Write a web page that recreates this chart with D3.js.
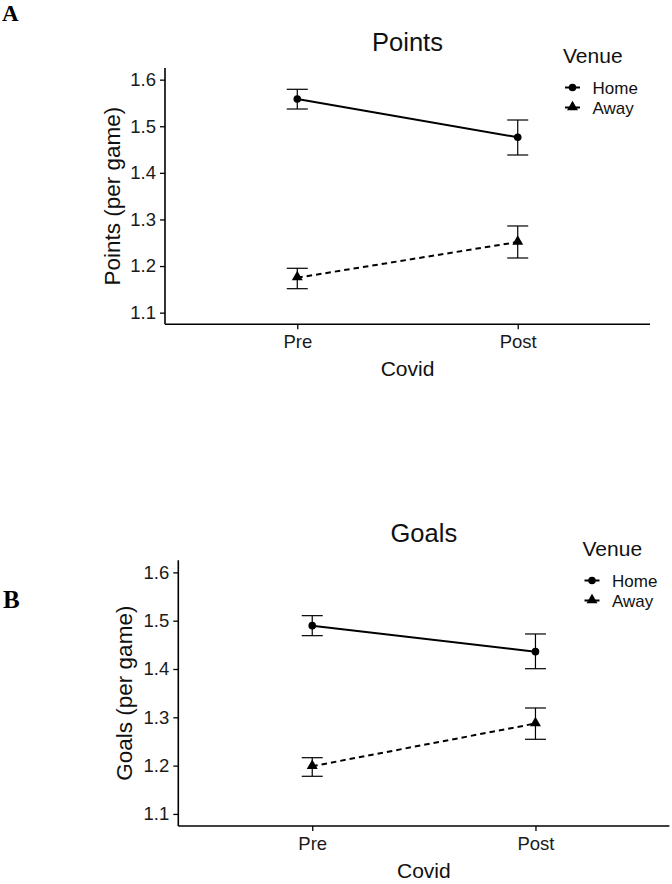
<!DOCTYPE html>
<html>
<head>
<meta charset="utf-8">
<script src="https://cdn.jsdelivr.net/npm/d3@7"></script>
<style>
  html, body { margin: 0; padding: 0; background: #fff; }
  svg { display: block; }
  text { font-family: "Liberation Sans", Arial, sans-serif; }
</style>
</head>
<body>
<svg id="chart" width="672" height="884"></svg>
<script>
// ---------- Data ----------
const covid = ["Pre", "Post"];
const venues = ["Home", "Away"];
const yTicks = [1.1, 1.2, 1.3, 1.4, 1.5, 1.6];
const yLimits = [1.1, 1.6];

// Panel A: Points (per game)
const pointsHome   = [1.5585, 1.4763];
const pointsHomeLo = [1.5370, 1.4383];
const pointsHomeHi = [1.5793, 1.5134];
const pointsAway   = [1.1750, 1.2516];
const pointsAwayLo = [1.1514, 1.2173];
const pointsAwayHi = [1.1952, 1.2860];

// Panel B: Goals (per game)
const goalsHome   = [1.4897, 1.4359];
const goalsHomeLo = [1.4690, 1.4006];
const goalsHomeHi = [1.5104, 1.4725];
const goalsAway   = [1.1987, 1.2872];
const goalsAwayLo = [1.1779, 1.2545];
const goalsAwayHi = [1.2164, 1.3193];

// ---------- Drawing ----------
const svg = d3.select("#chart");
svg.append("rect").attr("width", 672).attr("height", 884).attr("fill", "#fff");

function panel(opt) {
  const g = svg.append("g");
  const exp = (yLimits[1] - yLimits[0]) * 0.05;
  const y = d3.scaleLinear()
    .domain([yLimits[0] - exp, yLimits[1] + exp])
    .range([opt.bottom, opt.top]);
  // discrete x with 0.6 expansion each side
  const xPos = d3.scaleLinear().domain([0.4, 2.6]).range([opt.left, opt.right]);
  const x = c => xPos(covid.indexOf(c) + 1);

  // Axes
  const yAxis = d3.axisLeft(y).tickValues(yTicks).tickFormat(d3.format(".1f"))
    .tickSize(5).tickPadding(4);
  const ya = g.append("g").attr("transform", `translate(${opt.left},0)`).call(yAxis);
  ya.select(".domain").attr("stroke", "#000").attr("stroke-width", 1.6)
    .attr("d", `M0,${opt.top}V${opt.bottom}`);
  ya.selectAll(".tick line").attr("stroke", "#000").attr("stroke-width", 1.3);
  ya.selectAll(".tick text").attr("fill", "#1a1a1a").style("font-size", "18.5px")
    .style("font-family", "Liberation Sans, Arial, sans-serif");

  const xScaleBand = d3.scalePoint().domain(covid).range([x("Pre"), x("Post")]);
  const xAxis = d3.axisBottom(xScaleBand).tickSize(5).tickPadding(6);
  const xa = g.append("g").attr("transform", `translate(0,${opt.bottom})`).call(xAxis);
  xa.select(".domain").attr("stroke", "#000").attr("stroke-width", 1.6)
    .attr("d", `M${opt.left},0H${opt.right}`);
  xa.selectAll(".tick line").attr("stroke", "#000").attr("stroke-width", 1.3);
  xa.selectAll(".tick text").attr("fill", "#1a1a1a").style("font-size", "18.5px")
    .style("font-family", "Liberation Sans, Arial, sans-serif");

  // Titles
  g.append("text").attr("x", (opt.left + opt.right) / 2).attr("y", opt.titleY)
    .attr("text-anchor", "middle").style("font-size", "25.5px").attr("fill", "#111")
    .text(opt.title);
  g.append("text").attr("x", (opt.left + opt.right) / 2).attr("y", opt.bottom + 52)
    .attr("text-anchor", "middle").style("font-size", "21px").attr("fill", "#111")
    .text("Covid");
  g.append("text")
    .attr("transform", `translate(${opt.yTitleX},${(opt.top + opt.bottom) / 2}) rotate(-90)`)
    .attr("text-anchor", "middle").style("font-size", "22.5px").attr("fill", "#111")
    .text(opt.yTitle);

  // Panel letter
  g.append("text").attr("x", opt.letterX).attr("y", opt.letterY)
    .style("font-family", "Liberation Serif, 'Times New Roman', serif")
    .style("font-weight", "bold").style("font-size", opt.letterSize + "px")
    .attr("fill", "#000").text(opt.letter);

  const series = [
    { name: "Home", v: opt.home, lo: opt.homeLo, hi: opt.homeHi, dash: null, shape: "circle" },
    { name: "Away", v: opt.away, lo: opt.awayLo, hi: opt.awayHi, dash: "5.5,4", shape: "triangle" }
  ];
  const line = d3.line().x(d => x(d.c)).y(d => y(d.v));
  const tri = d3.symbol().type(d3.symbolTriangle).size(52);

  series.forEach(s => {
    const pts = covid.map((c, i) => ({ c, v: s.v[i], lo: s.lo[i], hi: s.hi[i] }));
    // error bars
    const eb = g.append("g").attr("stroke", "#000").attr("stroke-width", 1.2).attr("fill", "none");
    pts.forEach(p => {
      const cx = x(p.c), w = 10.5;
      eb.append("line").attr("x1", cx).attr("x2", cx).attr("y1", y(p.lo)).attr("y2", y(p.hi));
      eb.append("line").attr("x1", cx - w).attr("x2", cx + w).attr("y1", y(p.lo)).attr("y2", y(p.lo));
      eb.append("line").attr("x1", cx - w).attr("x2", cx + w).attr("y1", y(p.hi)).attr("y2", y(p.hi));
    });
    g.append("path").datum(pts).attr("d", line).attr("fill", "none")
      .attr("stroke", "#000").attr("stroke-width", 2)
      .attr("stroke-dasharray", s.dash);
    pts.forEach(p => {
      if (s.shape === "circle") {
        g.append("circle").attr("cx", x(p.c)).attr("cy", y(p.v)).attr("r", 3.8).attr("fill", "#000");
      } else {
        g.append("path").attr("d", tri)
          .attr("transform", `translate(${x(p.c)},${y(p.v) - 0.5})`).attr("fill", "#000");
      }
    });
  });

  // Legend
  const lg = g.append("g").attr("transform", `translate(${opt.legX},${opt.legY})`);
  lg.append("text").attr("x", 0).attr("y", 0).style("font-size", "21px").attr("fill", "#111").text("Venue");
  venues.forEach((v, i) => {
    const cy = 24.5 + i * 20;
    const kx = 9.5;
    lg.append("line").attr("x1", kx - 7.5).attr("x2", kx + 7.5).attr("y1", cy).attr("y2", cy)
      .attr("stroke", "#000").attr("stroke-width", 2);
    if (i === 0) lg.append("circle").attr("cx", kx).attr("cy", cy).attr("r", 3.8).attr("fill", "#000");
    else lg.append("path").attr("d", tri).attr("transform", `translate(${kx},${cy - 0.5})`).attr("fill", "#000");
    lg.append("text").attr("x", 29.5).attr("y", cy + 6.5).style("font-size", "17px").attr("fill", "#111").text(v);
  });
}

panel({
  left: 165, right: 650, top: 68, bottom: 324.3,
  title: "Points", titleY: 50.5, yTitle: "Points (per game)", yTitleX: 120,
  letter: "A", letterX: 2, letterY: 20.5, letterSize: 23,
  legX: 563, legY: 63,
  home: pointsHome, homeLo: pointsHomeLo, homeHi: pointsHomeHi,
  away: pointsAway, awayLo: pointsAwayLo, awayHi: pointsAwayHi
});

panel({
  left: 178.3, right: 669.4, top: 560.3, bottom: 826,
  title: "Goals", titleY: 542.3, yTitle: "Goals (per game)", yTitleX: 132,
  letter: "B", letterX: 3, letterY: 608, letterSize: 25,
  legX: 582.5, legY: 556,
  home: goalsHome, homeLo: goalsHomeLo, homeHi: goalsHomeHi,
  away: goalsAway, awayLo: goalsAwayLo, awayHi: goalsAwayHi
});
</script>
</body>
</html>
